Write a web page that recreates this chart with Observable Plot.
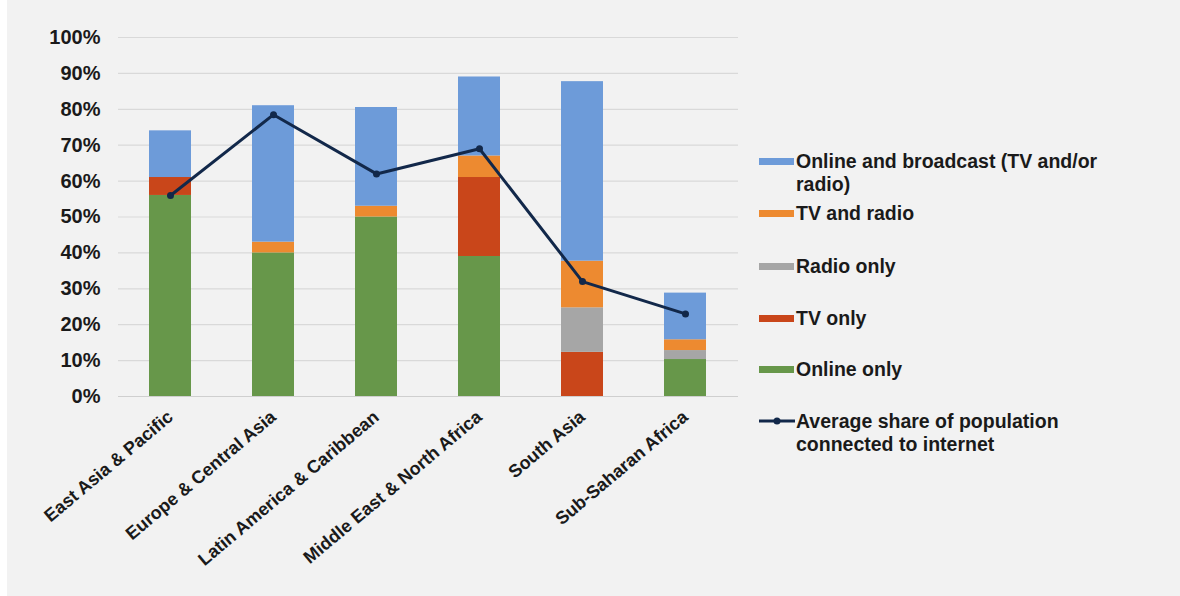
<!DOCTYPE html>
<html><head><meta charset="utf-8">
<script src="https://cdn.jsdelivr.net/npm/d3@7"></script>
<script src="https://cdn.jsdelivr.net/npm/@observablehq/plot@0.6"></script>
<style>
html,body{margin:0;padding:0;background:#f2f2f2;}
body{width:1180px;height:596px;position:relative;overflow:hidden;font-family:"Liberation Sans",Arial,sans-serif;}
#edge{position:absolute;left:0;top:0;width:7px;height:596px;background:#fff;}
#chart{position:absolute;left:0;top:0;}
.item{position:absolute;left:796px;font-size:19.5px;font-weight:bold;color:#1a1a1a;line-height:23px;white-space:nowrap;}
.sw{position:absolute;left:759px;width:35px;height:7px;}
</style></head><body>
<div id="edge"></div>
<div id="chart"></div>
<div id="legend"></div>
<script>
const regions = ["East Asia & Pacific","Europe & Central Asia","Latin America & Caribbean","Middle East & North Africa","South Asia","Sub-Saharan Africa"];
const seriesNames = ["Online only","TV only","Radio only","TV and radio","Online and broadcast (TV and/or radio)"];
const seriesColors = ["#67974a","#c9461a","#a6a6a6","#ed8a30","#6d9bd9"];
const onlineOnly      = [0.56, 0.40, 0.50, 0.39, 0.00, 0.103];
const tvOnly          = [0.05, 0.00, 0.00, 0.22, 0.123, 0.00];
const radioOnly       = [0.00, 0.00, 0.00, 0.00, 0.124, 0.025];
const tvAndRadio      = [0.00, 0.03, 0.03, 0.06, 0.13, 0.03];
const onlineBroadcast = [0.13, 0.38, 0.275, 0.22, 0.50, 0.13];
const internetShare   = [0.56, 0.785, 0.62, 0.69, 0.32, 0.23];
const lineName = "Average share of population connected to internet";
const lineColor = "#12284a";

const seriesValues = [onlineOnly, tvOnly, radioOnly, tvAndRadio, onlineBroadcast];
const long = [];
seriesNames.forEach((s, si) => regions.forEach((r, ri) => long.push({region: r, series: s, value: seriesValues[si][ri]})));
const lineData = regions.map((r, i) => ({region: r, value: internetShare[i]}));

const chart = Plot.plot({
  width: 745, height: 596,
  marginLeft: 118, marginRight: 7, marginTop: 37, marginBottom: 200,
  style: {fontFamily: '"Liberation Sans", Arial, sans-serif', fontWeight: "bold", color: "#1a1a1a", background: "transparent", overflow: "visible"},
  x: {domain: regions, paddingInner: 0.59, paddingOuter: 0.295, label: null},
  y: {domain: [0, 1], label: null},
  color: {domain: seriesNames, range: seriesColors},
  marks: [
    Plot.gridY({ticks: 10, stroke: "#d9d9d9", strokeOpacity: 1, strokeWidth: 1.2}),
    Plot.axisY({ticks: 10, tickFormat: d3.format(".0%"), tickSize: 0, tickPadding: 18, fontSize: 20}),
    Plot.axisX({tickRotate: -40, tickSize: 0, tickPadding: 18, fontSize: 18}),
    Plot.ruleY([0], {stroke: "#cfcfcf", strokeWidth: 1.2}),
    Plot.barY(long, {x: "region", y: "value", fill: "series", order: seriesNames}),
    Plot.line(lineData, {x: "region", y: "value", stroke: lineColor, strokeWidth: 3}),
    Plot.dot(lineData, {x: "region", y: "value", fill: lineColor, r: 3.5})
  ]
});
document.getElementById("chart").appendChild(chart);

// legend
const legend = document.getElementById("legend");
const entries = [
  {name: seriesNames[4], lines: ["Online and broadcast (TV and/or", "radio)"], color: seriesColors[4], cy: 161},
  {name: seriesNames[3], lines: ["TV and radio"], color: seriesColors[3], cy: 213},
  {name: seriesNames[2], lines: ["Radio only"], color: seriesColors[2], cy: 266},
  {name: seriesNames[1], lines: ["TV only"], color: seriesColors[1], cy: 318},
  {name: seriesNames[0], lines: ["Online only"], color: seriesColors[0], cy: 369}
];
entries.forEach(e => {
  const sw = document.createElement("div");
  sw.className = "sw";
  sw.style.top = (e.cy - 3.5) + "px";
  sw.style.background = e.color;
  legend.appendChild(sw);
  const t = document.createElement("div");
  t.className = "item";
  t.style.top = (e.cy - 11.5) + "px";
  t.innerHTML = e.lines.map(l => l.replace(/&/g, "&amp;")).join("<br>");
  legend.appendChild(t);
});
// line legend entry
const ns = "http://www.w3.org/2000/svg";
const lsvg = document.createElementNS(ns, "svg");
lsvg.setAttribute("width", 40); lsvg.setAttribute("height", 12);
lsvg.style.position = "absolute"; lsvg.style.left = "757px"; lsvg.style.top = (421 - 6) + "px";
const ln = document.createElementNS(ns, "line");
ln.setAttribute("x1", 2); ln.setAttribute("x2", 38); ln.setAttribute("y1", 6); ln.setAttribute("y2", 6);
ln.setAttribute("stroke", lineColor); ln.setAttribute("stroke-width", 3);
lsvg.appendChild(ln);
const dt = document.createElementNS(ns, "circle");
dt.setAttribute("cx", 20); dt.setAttribute("cy", 6); dt.setAttribute("r", 3.5); dt.setAttribute("fill", lineColor);
lsvg.appendChild(dt);
legend.appendChild(lsvg);
const lt = document.createElement("div");
lt.className = "item";
lt.style.top = (421 - 11.5) + "px";
lt.innerHTML = "Average share of population<br>connected to internet";
legend.appendChild(lt);
</script>
</body></html>
